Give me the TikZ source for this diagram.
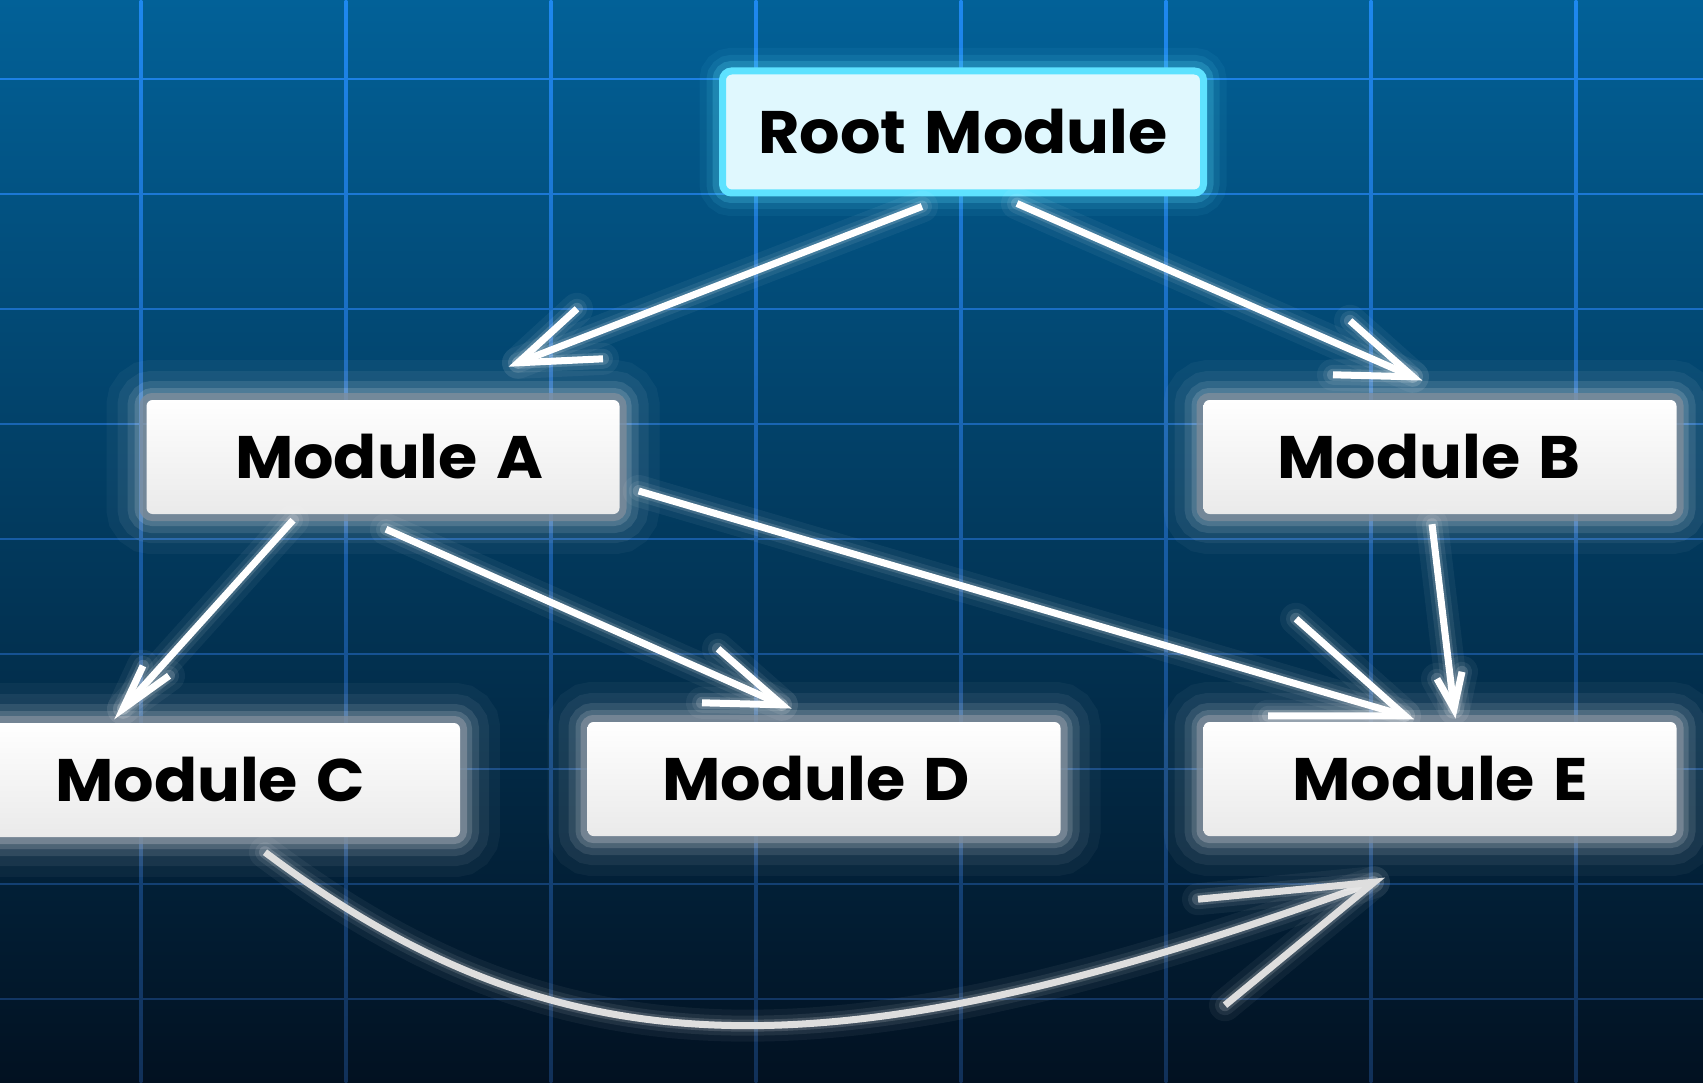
\documentclass[tikz,border=0pt]{standalone}
\usepackage{fontspec}
\setmainfont{Poppins}[FakeStretch=1.06,WordSpace=1.35]
\usetikzlibrary{calc}
\definecolor{bgtop}{RGB}{2,97,152}
\definecolor{bgbot}{RGB}{2,17,33}
\definecolor{gridtop}{RGB}{30,136,240}
\definecolor{gridbot}{RGB}{17,48,88}
\definecolor{boxbot}{RGB}{234,234,234}
\definecolor{boxrim}{RGB}{128,142,156}
\definecolor{rootfill}{RGB}{224,248,254}
\definecolor{rootedge}{RGB}{94,226,255}
\definecolor{curvecol}{RGB}{222,222,222}
\tikzstyle{boxfont}=[font=\fontsize{60}{60}\selectfont\bfseries,text=black]
\tikzstyle{rootbox}=[rectangle,rounded corners=9pt,minimum width=481pt,minimum height=122pt,fill=rootfill,draw=rootedge,line width=7pt,boxfont,
    preaction={draw=rootedge,line width=46pt,opacity=0.06},
    preaction={draw=rootedge,line width=32pt,opacity=0.1},
    preaction={draw=rootedge,line width=20pt,opacity=0.2}]
\tikzstyle{module}=[rectangle,rounded corners=6pt,minimum width=473pt,minimum height=114pt,top color=white,bottom color=boxbot,boxfont,
    preaction={draw=white,line width=80pt,opacity=0.04},
    preaction={draw=white,line width=58pt,opacity=0.06},
    preaction={draw=white,line width=38pt,opacity=0.1},
    preaction={draw=white,line width=24pt,opacity=0.14},
    preaction={draw=boxrim,line width=14pt,opacity=0.75}]
\tikzstyle{glow}=[preaction={draw=white,line width=32pt,opacity=0.05,line cap=round,line join=round},
    preaction={draw=white,line width=20pt,opacity=0.08,line cap=round,line join=round},
    preaction={draw=white,line width=12pt,opacity=0.15,line cap=round,line join=round}]
\tikzstyle{link}=[draw=white,line width=7pt,glow]

\begin{document}
\begin{tikzpicture}[x=1pt,y=-1pt]
    \useasboundingbox (0,0) rectangle (1703,1083);
    \clip (0,0) rectangle (1703,1083);
    % Background and grid
    \shade[top color=bgtop,bottom color=bgbot] (0,0) rectangle (1703,1083);
    \foreach \x in {141,346,...,1576}
        \shade[top color=gridtop,bottom color=gridbot] (\x-1.4,0) rectangle (\x+1.4,1083);
    \foreach \y in {79,194,...,999}{
        \pgfmathtruncatemacro{\mix}{100-\y/1083*100}
        \draw[gridtop!\mix!gridbot,line width=2.8pt] (0,\y) -- (1703,\y);
    }

    % First we draw the modules
    \node[rootbox] (root) at (963,132) {Root Module};
    \foreach \pos/\name/\txt/\tshift in {{(383,457)/A/Module A/12},{(1440,457)/B/Module B/-22},
        {(824,779)/D/Module D/-16},{(1440,779)/E/Module E/0}}
        \node[module] (\name) at \pos {\hspace*{\tshift pt}\txt};
    \node[module,minimum width=500pt] (C) at (210,780) {Module C};

    % Connect modules with arrows and draw the heads
    \foreach \src/\sx/\sy/\dst/\dx/\dy/\ax/\ay/\bx/\by in {
        root.south/-41/10/A.north/135/-37/59/-54/85/-4,
        root.south/54/7/B.north/-27/-23/-63/-56/-80/-2,
        A.south/-90/6/C.north/-87/-14/20/-43/46/-33,
        A.south/3/15/D.north/-42/-17/-64/-56/-80/-2,
        A.east/19/34/E.north/-35/-6/-109/-97/-137/0,
        B.south/-8/10/E.north/14/-13/-17/-30/8/-37}
    {
        \draw[link] ($(\src)+(\sx,\sy)$) -- ($(\dst)+(\dx,\dy)$) coordinate (tip);
        \draw[link,line join=miter] ($(tip)+(\ax,\ay)$) -- (tip) -- ($(tip)+(\bx,\by)$);
    }

    % Curved arrow from C to E
    \draw[link,draw=curvecol] ($(C.south)+(55,15)$) .. controls ($(C.south)+(356,241)$) and ($(E.south)+(-608,242)$) .. ($(E.south)+(-66,46)$) coordinate (tip);
    \draw[link,draw=curvecol,line join=miter] ($(tip)+(-176,17)$) -- (tip) -- ($(tip)+(-149,123)$);
\end{tikzpicture}
\end{document}
